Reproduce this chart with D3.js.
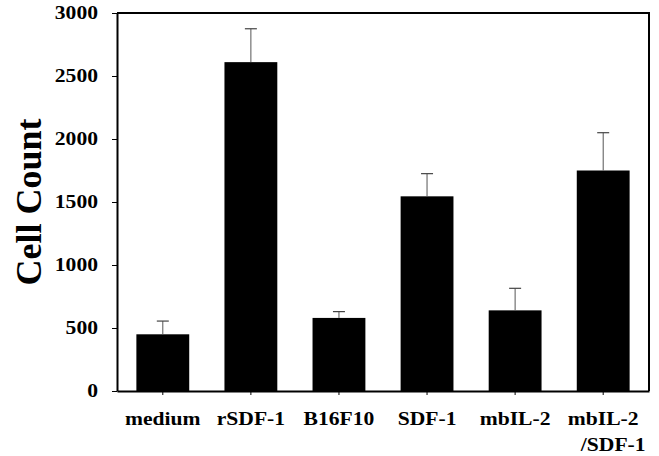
<!DOCTYPE html>
<html>
<head>
<meta charset="utf-8">
<script src="https://cdn.jsdelivr.net/npm/d3@7"></script>
<style>
  body { margin: 0; background: #fff; }
  svg text { font-family: "Liberation Serif", "Times New Roman", serif; font-weight: bold; fill: #000; }
</style>
</head>
<body>
<svg></svg>
<script>
let w = 659;
let h = 456;

const groups = ['medium', 'rSDF-1', 'B16F10', 'SDF-1', 'mbIL-2', 'mbIL-2\n/SDF-1'];
const counts = [450, 2610, 580, 1545, 640, 1750];
const errors = [105, 265, 50, 180, 175, 300];
const yTicks = [0, 500, 1000, 1500, 2000, 2500, 3000];

const padL = 117, padR = 649, padT = 13, padB = 391;
const stretch = 1.2;

const svg = d3.select('svg')
  .attr('width', w)
  .attr('height', h)

// Scales
const xScale = d3.scaleBand()
  .domain(groups)
  .range([padL, padR])
  .paddingInner(0.4)
  .paddingOuter(0.22)

const yScale = d3.scaleLinear()
  .domain([0, 3000])
  .range([padB, padT])

const data = groups.map((g, i) => ({g: g, v: counts[i], e: errors[i]}))

// Bars
svg.selectAll('rect.bar')
  .data(data)
  .enter()
  .append('rect')
  .attr('class', 'bar')
  .attr('x', d => xScale(d.g))
  .attr('y', d => yScale(d.v))
  .attr('width', xScale.bandwidth())
  .attr('height', d => yScale(0) - yScale(d.v))
  .style('fill', '#000')

// Error bars (upper only)
const cx = d => xScale(d.g) + xScale.bandwidth() / 2

svg.selectAll('line.err')
  .data(data)
  .enter()
  .append('line')
  .attr('class', 'err')
  .attr('x1', cx).attr('x2', cx)
  .attr('y1', d => yScale(d.v))
  .attr('y2', d => yScale(d.v + d.e))
  .style('stroke', '#555')
  .style('stroke-width', 1)

svg.selectAll('line.cap')
  .data(data)
  .enter()
  .append('line')
  .attr('class', 'cap')
  .attr('x1', d => cx(d) - 6).attr('x2', d => cx(d) + 6)
  .attr('y1', d => yScale(d.v + d.e))
  .attr('y2', d => yScale(d.v + d.e))
  .style('stroke', '#444')
  .style('stroke-width', 1.2)

// Frame (top and right)
svg.append('path')
  .attr('d', `M${padL},${padT}H${padR}V${padB}`)
  .style('fill', 'none')
  .style('stroke', '#000')
  .style('stroke-width', 2)

// Axes
const yAxis = d3.axisLeft(yScale)
  .tickValues(yTicks)
  .tickSize(5)
  .tickSizeOuter(0)
  .tickFormat(d => String(d))

const gy = svg.append('g')
  .attr('transform', 'translate(' + padL + ',0)')
  .call(yAxis)

gy.select('.domain').style('stroke-width', 2)
gy.selectAll('.tick text')
  .attr('x', -19 / stretch)
  .attr('transform', `scale(${stretch},1)`)
  .style('font-size', '18px')
  .style('font-family', '"Liberation Serif", serif')

const xAxis = d3.axisBottom(xScale)
  .tickSize(4)
  .tickSizeOuter(0)
  .tickFormat('')

const gx = svg.append('g')
  .attr('transform', 'translate(0,' + padB + ')')
  .call(xAxis)

gx.select('.domain').style('stroke-width', 2)

// Category labels
groups.forEach(g => {
  const lines = g.split('\n')
  lines.forEach((t, j) => {
    svg.append('text')
      .attr('transform', `translate(${xScale(g) + xScale.bandwidth() / 2 + j * 10},${425 + j * 26}) scale(${stretch},1)`)
      .attr('text-anchor', 'middle')
      .style('font-size', '18px')
      .text(t)
  })
})

// Y title
svg.append('text')
  .attr('transform', 'translate(41,202) rotate(-90)')
  .attr('text-anchor', 'middle')
  .style('font-size', '36px')
  .text('Cell Count')
</script>
</body>
</html>
